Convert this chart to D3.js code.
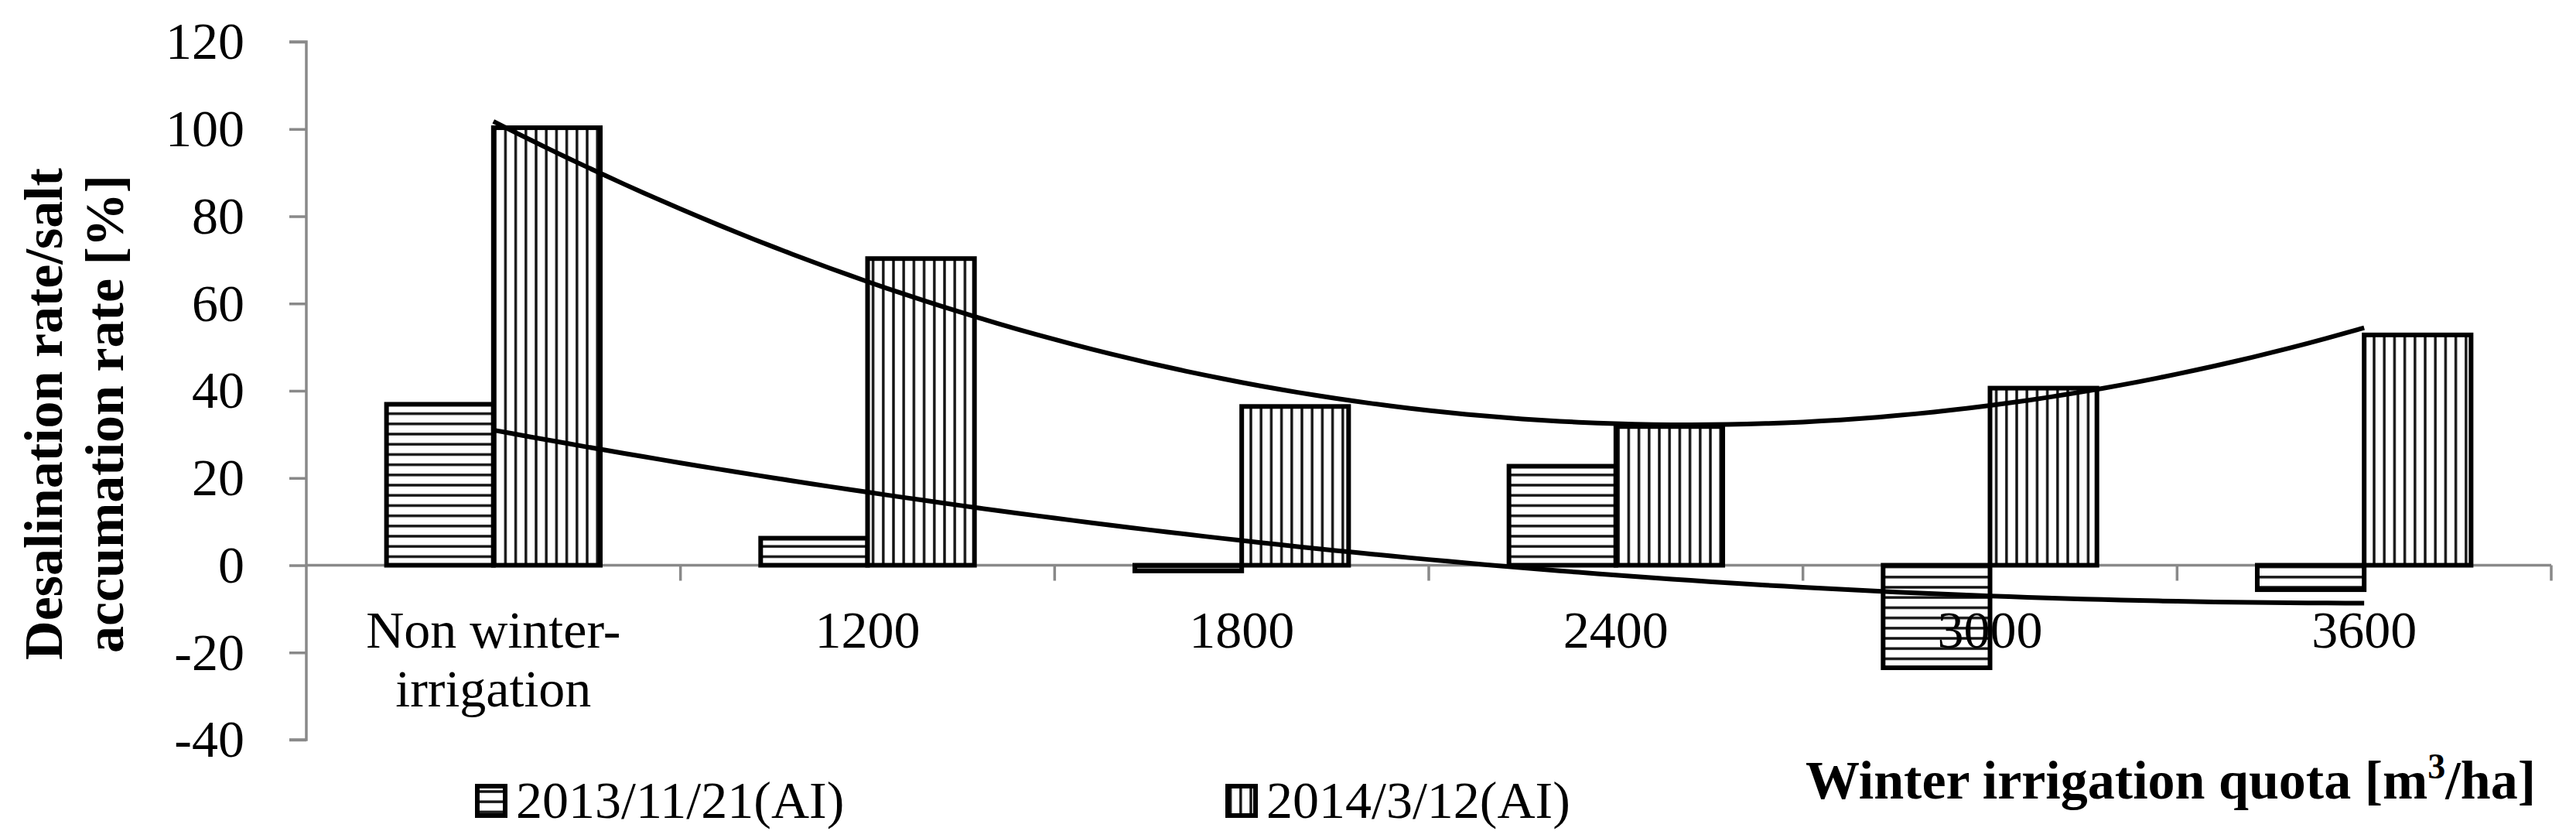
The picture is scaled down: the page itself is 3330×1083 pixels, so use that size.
<!DOCTYPE html>
<html>
<head>
<meta charset="utf-8">
<script src="https://d3js.org/d3.v7.min.js"></script>
<style>
  html, body { margin: 0; padding: 0; background: #ffffff; }
  svg { display: block; }
  text { font-family: "Liberation Serif", "Times New Roman", serif; fill: #000; }
</style>
</head>
<body>
<svg id="chart" width="3330" height="1083"></svg>
<script>
// ---- data ----
const categories = ["Non winter-irrigation", "1200", "1800", "2400", "3000", "3600"];
const categoryLabelLines = [["Non winter-", "irrigation"], ["1200"], ["1800"], ["2400"], ["3000"], ["3600"]];
const seriesNames = ["2013/11/21(AI)", "2014/3/12(AI)"];
const values2013 = [36.9, 6.2, -1.3, 22.7, -23.5, -5.6];
const values2014 = [100.3, 70.3, 36.4, 31.8, 40.6, 52.8];
const yTicks = [-40, -20, 0, 20, 40, 60, 80, 100, 120];
const yTitleLines = ["Desalination rate/salt", "accumation rate [%]"];

// ---- layout ----
const svg = d3.select("#chart");
svg.append("rect").attr("width", 3330).attr("height", 1083).attr("fill", "#fff");

const plotLeft = 396, plotRight = 3298, plotTop = 54, plotBottom = 956;
const x = d3.scaleBand().domain(categories).range([plotLeft, plotRight]).padding(0);
const xs = d3.scaleBand().domain(seriesNames).range([0, x.bandwidth()]).paddingInner(0).paddingOuter(0.75);
const y = d3.scaleLinear().domain([-40, 120]).range([plotBottom, plotTop]);

// patterns
const defs = svg.append("defs");
const P = 13.2;
const ph = defs.append("pattern").attr("id", "phoriz").attr("patternUnits", "userSpaceOnUse")
  .attr("width", P).attr("height", P);
ph.append("rect").attr("width", P).attr("height", P).attr("fill", "#fff");
ph.append("line").attr("x1", 0).attr("x2", P).attr("y1", P / 2).attr("y2", P / 2)
  .attr("stroke", "#111").attr("stroke-width", 3.4);
const pv = defs.append("pattern").attr("id", "pvert").attr("patternUnits", "userSpaceOnUse")
  .attr("width", P).attr("height", P);
pv.append("rect").attr("width", P).attr("height", P).attr("fill", "#fff");
pv.append("line").attr("y1", 0).attr("y2", P).attr("x1", P / 2).attr("x2", P / 2)
  .attr("stroke", "#111").attr("stroke-width", 3.4);
const fills = ["url(#phoriz)", "url(#pvert)"];

// ---- axes ----
const axisColor = "#898989";
const yAxis = d3.axisLeft(y).tickValues(yTicks).tickSize(22).tickPadding(58).tickFormat(d => String(d));
const gy = svg.append("g").attr("transform", `translate(${plotLeft},0)`).call(yAxis);
gy.select(".domain").attr("stroke", axisColor).attr("stroke-width", 3.5).attr("d", `M-22,${y(120)}H0V${y(-40)}H-22`);
gy.selectAll(".tick line").attr("stroke", axisColor).attr("stroke-width", 3.5);
gy.selectAll(".tick text").attr("font-size", 68).attr("font-family", "Liberation Serif, Times New Roman, serif").attr("fill", "#000");

// x axis line at 0
svg.append("line").attr("x1", plotLeft).attr("x2", plotRight).attr("y1", y(0)).attr("y2", y(0))
  .attr("stroke", axisColor).attr("stroke-width", 3.5);
// category boundary ticks
const boundaries = categories.map(c => x(c)).slice(1).concat([plotRight]);
svg.selectAll(".xtick").data(boundaries).enter().append("line")
  .attr("x1", d => d).attr("x2", d => d).attr("y1", y(0)).attr("y2", y(0) + 20)
  .attr("stroke", axisColor).attr("stroke-width", 3.5);

// ---- bars ----
const allSeries = [values2013, values2014];
allSeries.forEach((vals, si) => {
  svg.append("g").selectAll("rect").data(vals).enter().append("rect")
    .attr("x", (d, i) => x(categories[i]) + xs(seriesNames[si]))
    .attr("width", xs.bandwidth())
    .attr("y", d => y(Math.max(0, d)))
    .attr("height", d => Math.abs(y(d) - y(0)))
    .attr("fill", fills[si])
    .attr("stroke", "#000").attr("stroke-width", 6);
});

// ---- polynomial (order 2) trendlines computed from the data ----
function polyFit2(vals) {
  const xsv = vals.map((_, i) => i + 1);
  let S = [0, 0, 0, 0, 0], T = [0, 0, 0];
  xsv.forEach((xv, i) => {
    for (let k = 0; k < 5; k++) S[k] += Math.pow(xv, k);
    for (let k = 0; k < 3; k++) T[k] += Math.pow(xv, k) * vals[i];
  });
  const A = [[S[0], S[1], S[2], T[0]], [S[1], S[2], S[3], T[1]], [S[2], S[3], S[4], T[2]]];
  for (let i = 0; i < 3; i++) {
    for (let j = i + 1; j < 3; j++) {
      const f = A[j][i] / A[i][i];
      for (let k = i; k < 4; k++) A[j][k] -= f * A[i][k];
    }
  }
  const c = [0, 0, 0];
  for (let i = 2; i >= 0; i--) {
    let s = A[i][3];
    for (let k = i + 1; k < 3; k++) s -= A[i][k] * c[k];
    c[i] = s / A[i][i];
  }
  return t => c[0] + c[1] * t + c[2] * t * t;
}
const cx0 = x(categories[0]) + x.bandwidth() / 2;
const tToPx = t => cx0 + (t - 1) * x.step();
const line = d3.line().x(d => tToPx(d[0])).y(d => y(d[1]));
allSeries.forEach(vals => {
  const f = polyFit2(vals);
  const pts = d3.range(1, 6.0001, 0.05).map(t => [t, f(t)]);
  svg.append("path").attr("d", line(pts)).attr("fill", "none")
    .attr("stroke", "#000").attr("stroke-width", 6).attr("stroke-linejoin", "round");
});

// ---- category labels ----
categoryLabelLines.forEach((lines, i) => {
  const t = svg.append("text").attr("text-anchor", "middle").attr("font-size", 68)
    .attr("x", x(categories[i]) + x.bandwidth() / 2).attr("y", 837);
  lines.forEach((l, j) => {
    t.append("tspan").attr("x", x(categories[i]) + x.bandwidth() / 2).attr("y", 837 + j * 76).text(l);
  });
});

// ---- y title ----
yTitleLines.forEach((l, j) => {
  svg.append("text").attr("font-size", 70).attr("font-weight", "bold").attr("text-anchor", "middle")
    .attr("transform", `translate(${80 + j * 79},535) rotate(-90)`).text(l);
});

// ---- x title ----
const xt = svg.append("text").attr("font-size", 70).attr("font-weight", "bold").attr("text-anchor", "middle")
  .attr("x", 2806).attr("y", 1032);
xt.append("tspan").text("Winter irrigation quota [m");
xt.append("tspan").attr("font-size", 46).attr("dy", -26).text("3");
xt.append("tspan").attr("dy", 26).text("/ha]");

// ---- legend ----
const legendX = [617, 1587];
seriesNames.forEach((name, si) => {
  svg.append("rect").attr("x", legendX[si]).attr("y", 1016).attr("width", 36).attr("height", 38)
    .attr("fill", fills[si]).attr("stroke", "#000").attr("stroke-width", 6);
  svg.append("text").attr("font-size", 68).attr("x", legendX[si] + 50).attr("y", 1057).text(name);
});
</script>
</body>
</html>
